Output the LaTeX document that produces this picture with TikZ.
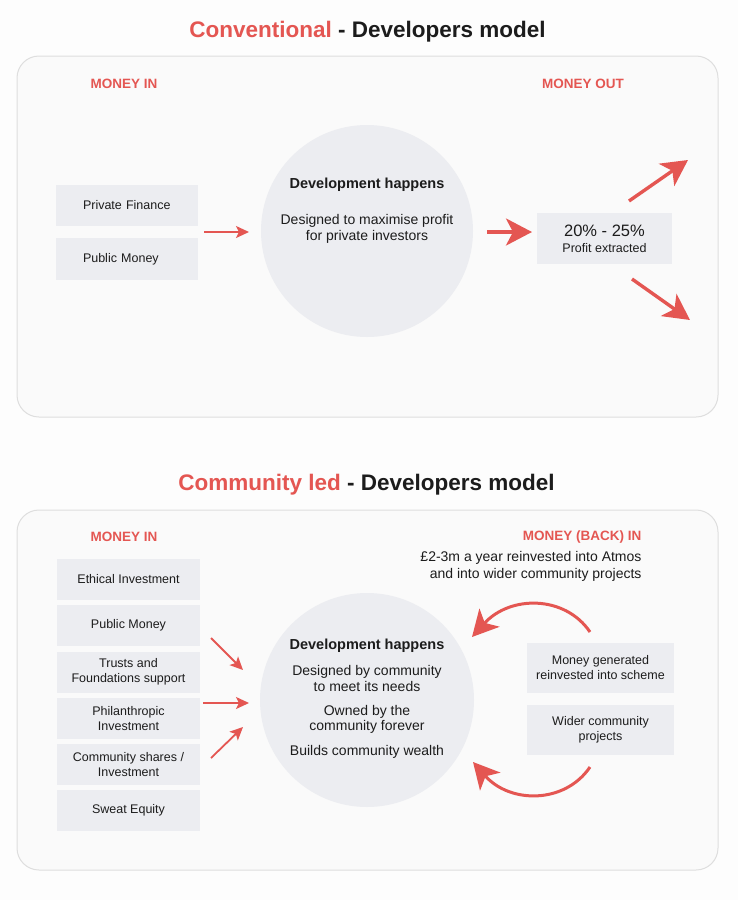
\documentclass[tikz,border=0pt]{standalone}
\usepackage{fontspec}
\setmainfont{Liberation Sans}
\usetikzlibrary{arrows.meta}
\definecolor{accent}{RGB}{228,86,82}
\definecolor{ink}{RGB}{28,28,28}
\definecolor{tile}{RGB}{236,237,241}
\definecolor{panelfill}{RGB}{250,250,250}
\definecolor{panelline}{RGB}{222,222,222}
\definecolor{paper}{RGB}{253,253,253}

\begin{document}
\begin{tikzpicture}[x=1pt,y=-1pt,
  panel/.style={draw=panelline, fill=panelfill, line width=1pt, rounded corners=22pt},
  tilebox/.style={fill=tile, inner sep=0pt, align=center, text=ink, font=\fontsize{12.5}{15}\selectfont},
  hub/.style={circle, fill=tile, inner sep=0pt},
  hubhead/.style={text=ink, yshift=-2pt, font=\bfseries\fontsize{14.5}{17}\selectfont},
  hubtext/.style={text=ink, yshift=-2pt, align=center, font=\fontsize{14}{15.5}\selectfont},
  headline/.style={text=ink, yshift=-3pt, font=\bfseries\fontsize{22.5}{26}\selectfont},
  tag/.style={text=accent, yshift=-1pt, font=\bfseries\fontsize{13.5}{16}\selectfont},
  thin arrow/.style={draw=accent, line width=1.8pt, -{Stealth[length=13pt,width=12pt,inset=3pt]}},
  bold arrow/.style={draw=accent, line width=3.4pt, -{Stealth[length=26pt,width=27pt,inset=7pt]}},
]
% page and the two panels
\fill[paper] (0,0) rectangle (738,900);
\draw[panel] (17,56) rectangle (718,417);
\draw[panel] (17,510) rectangle (718,870);

% ---------- conventional model ----------
\node[headline] (title1) at (367.5,29) {\textcolor{accent}{Conventional} - Developers model};
\node[tag] (in1) at (124,83) {MONEY IN};
\node[tag] (out1) at (583,83) {MONEY OUT};

\node[tilebox, minimum width=142pt, minimum height=41pt, text width=88pt, align=left] (pf) at (127,205.5) {\raisebox{-1pt}{Private Finance}};
\node[tilebox, minimum width=142pt, minimum height=42pt, text width=88pt, align=left] (pm) at (127,259) {\raisebox{-1pt}{Public Money}};

\node[hub, minimum size=212pt] (dev1) at (367,231) {};
\node[hubhead] (dev1h) at (367,183) {Development happens};
\node[hubtext] (dev1t) at (367,227) {Designed to maximise profit\\for private investors};

\node[tilebox, minimum width=135pt, minimum height=51pt] (ext) at (604.5,238.5) {};
\node[text=ink, yshift=-1pt, font=\fontsize{16.5}{19}\selectfont] (extpct) at (604.5,230) {20\% - 25\%};
\node[text=ink, yshift=-1pt, font=\fontsize{12.5}{15}\selectfont] (extlbl) at (604.5,247) {Profit extracted};

\coordinate (a1s) at (204,232);
\coordinate (a1e) at (249,232);
\coordinate (a2s) at (487,232);
\coordinate (a2e) at (532,232);
\coordinate (u1s) at (629,201);
\coordinate (u1e) at (688,160);
\coordinate (d1s) at (632,279);
\coordinate (d1e) at (690,320);
\draw[thin arrow] (a1s) -- (a1e);
\draw[bold arrow] (a2s) -- (a2e);
\draw[bold arrow] (u1s) -- (u1e);
\draw[bold arrow] (d1s) -- (d1e);

% ---------- community led model ----------
\node[headline] (title2) at (366.5,482) {\textcolor{accent}{Community led} - Developers model};
\node[tag] (in2) at (124,536) {MONEY IN};
\node[tag, anchor=east] (back) at (645,536) {MONEY (BACK) IN};
\node[text=ink, yshift=-2pt, align=right, anchor=east, font=\fontsize{14}{17}\selectfont] (note) at (645,564.5)
  {£2-3m a year reinvested into Atmos\\and into wider community projects};

\tikzset{srcbox/.style={tilebox, minimum width=143pt, minimum height=41pt}}
\node[srcbox] (eth) at (128.5,579.5) {\raisebox{-1.5pt}{Ethical Investment}};
\node[srcbox] (pub) at (128.5,625.5) {\raisebox{-1.5pt}{Public Money}};
\node[srcbox] (tru) at (128.5,672) {Trusts and\\Foundations support};
\node[srcbox] (phi) at (128.5,718.5) {Philanthropic\\Investment};
\node[srcbox] (csh) at (128.5,764.5) {Community shares /\\Investment};
\node[srcbox] (swe) at (128.5,810.5) {\raisebox{-1.5pt}{Sweat Equity}};

\node[hub, minimum size=214pt] (dev2) at (367,700) {};
\node[hubhead] (dev2h) at (367,644) {Development happens};
\node[hubtext] (dev2a) at (367,676.5) {Designed by community\\to meet its needs};
\node[hubtext] (dev2b) at (367,717.5) {Owned by the\\community forever};
\node[hubtext] (dev2c) at (367,750) {Builds community wealth};

\tikzset{retbox/.style={tilebox, minimum width=147pt, minimum height=50pt}}
\node[retbox] (gen) at (600.5,668) {Money generated\\reinvested into scheme};
\node[retbox] (wid) at (600.5,730) {Wider community\\projects};

\coordinate (b1s) at (211,638);
\coordinate (b1e) at (243,670);
\coordinate (b2s) at (203,703);
\coordinate (b2e) at (249,703);
\coordinate (b3s) at (211,758);
\coordinate (b3e) at (243,727);
\draw[thin arrow] (b1s) -- (b1e);
\draw[thin arrow] (b2s) -- (b2e);
\draw[thin arrow] (b3s) -- (b3e);

\coordinate (r1s) at (590,632);
\coordinate (r1e) at (472,637);
\coordinate (r2s) at (590,767);
\coordinate (r2e) at (473,762);
\draw[bold arrow, line width=3pt] (r1s) .. controls (565,595) and (510,595) .. (r1e);
\draw[bold arrow, line width=3pt] (r2s) .. controls (565,804) and (510,804) .. (r2e);
\end{tikzpicture}
\end{document}
